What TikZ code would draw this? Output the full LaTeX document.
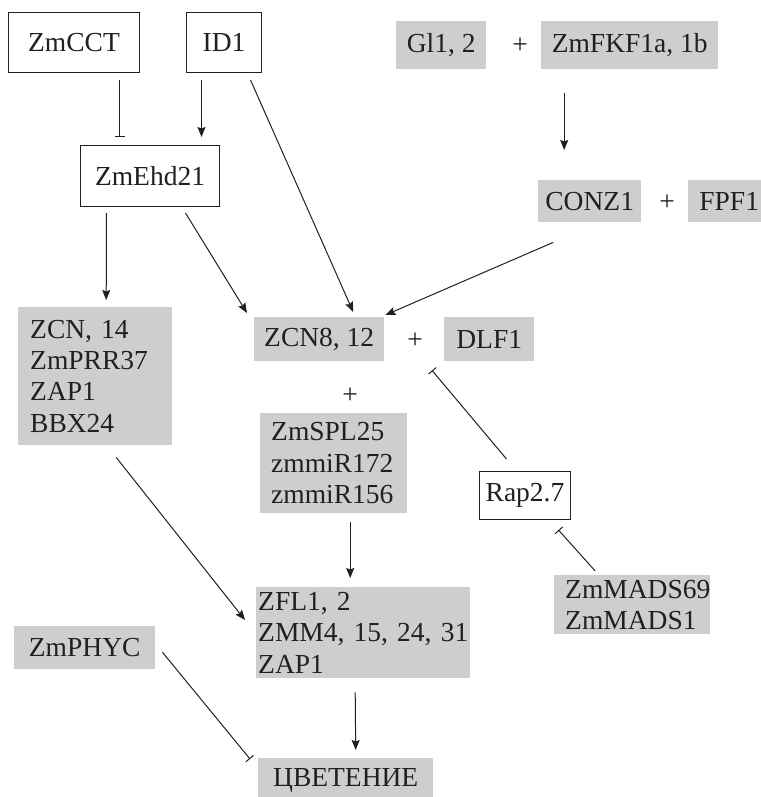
\documentclass[tikz,border=0pt]{standalone}
\usepackage{fontspec}
\setmainfont{Liberation Serif}[Ligatures=TeX]
\newfontfamily\tmsfont{Liberation Serif}
\usetikzlibrary{arrows.meta,calc}
\definecolor{boxgray}{RGB}{205,206,208}
\definecolor{ink}{RGB}{35,31,32}
\begin{document}
\begin{tikzpicture}[x=1pt,y=-1pt,
  every node/.style={font=\tmsfont\fontsize{27.5}{31.3}\selectfont, text=ink, inner sep=0pt},
  gbox/.style={fill=boxgray, anchor=north west},
  wbox/.style={draw=ink, line width=1pt, fill=white, anchor=north west},
  act/.style={draw=ink, line width=1pt, -{Stealth[length=10pt,width=8pt,inset=1.5pt]}},
  inh/.style={draw=ink, line width=1pt, -{Bar[width=10pt]}},
  plus/.style={}
]
\useasboundingbox (0,0) rectangle (760,797);

% white boxes
\node[wbox, minimum width=131pt, minimum height=60pt] (cct) at (8,12) {ZmCCT};
\node[wbox, minimum width=75pt, minimum height=60pt] (id1) at (186,12) {ID1};
\node[wbox, minimum width=139pt, minimum height=61pt] (ehd) at (80,145) {ZmEhd21};
\node[wbox, minimum width=91pt, minimum height=48pt] (rap) at (479,471) {Rap2.7};

% gray boxes
\node[gbox, minimum width=90pt, minimum height=48pt] (gl) at (396,21) {Gl1, 2};
\node[plus] (p1) at (520,46) {+};
\node[gbox, minimum width=177pt, minimum height=48pt] (fkf) at (541,21) {ZmFKF1a, 1b};
\node[gbox, minimum width=103pt, minimum height=42pt] (conz) at (538,180) {CONZ1};
\node[plus] (p2) at (667,203) {+};
\node[gbox, minimum width=82pt, minimum height=42pt] (fpf) at (688,180) {FPF1};
\node[gbox, minimum width=130pt, minimum height=44pt] (zcn8) at (254,317) {ZCN8, 12};
\node[plus] (p3) at (415,341) {+};
\node[gbox, minimum width=90pt, minimum height=44pt] (dlf) at (444,317) {DLF1};
\node[gbox, minimum width=154pt, minimum height=138pt, text width=130pt, align=left] (zcn14) at (18,307) {ZCN,~14\\ZmPRR37\\ZAP1\\BBX24};
\node[plus] (p4) at (350,396) {+};
\node[gbox, minimum width=147pt, minimum height=100pt, text width=125pt, align=left] (spl) at (260,413) {ZmSPL25\\zmmiR172\\zmmiR156};
\node[gbox, minimum width=156pt, minimum height=59pt, text width=134pt, align=left] (mads) at (554,575) {ZmMADS69\\ZmMADS1};
\node[gbox, minimum width=214pt, minimum height=91pt, text width=210pt, align=left] (zfl) at (256,587) {ZFL1,~2\\ZMM4,~15,~24,~31\\ZAP1};
\node[gbox, minimum width=141pt, minimum height=43pt] (phyc) at (14,626) {ZmPHYC};
\node[gbox, minimum width=175pt, minimum height=45pt] (cvet) at (258,758) {ЦВЕТЕНИЕ};

% connectors
\draw[inh] ([shift={(45.5,7)}]cct.south) -- ([shift={(-30.5,-8)}]ehd.north);
\draw[act] ([shift={(-22.5,7)}]id1.south) -- ([shift={(51.5,-8)}]ehd.north);
\draw[act] ([shift={(26.5,7)}]id1.south) -- ([shift={(34,-5)}]zcn8.north);
\draw[act] ([shift={(-43.5,6)}]ehd.south) -- ([shift={(11,-7)}]zcn14.north);
\draw[act] ([shift={(35.5,6)}]ehd.south) -- ([shift={(-7,-4)}]zcn8.north west);
\draw[act] ([shift={(-65.5,24)}]fkf.south) -- ([shift={(-25.5,-30)}]conz.north);
\draw[act] ([shift={(-36.5,20)}]conz.south) -- ([shift={(1,-2)}]zcn8.north east);
\draw[act] ([shift={(21,12)}]zcn14.south) -- ([shift={(-11,33)}]zfl.north west);
\draw[act] ([shift={(16.5,9)}]spl.south) -- ([shift={(-13,-9)}]zfl.north);
\draw[inh] ([shift={(-18.5,-12)}]rap.north) -- ([shift={(-12,9)}]dlf.south west);
\draw[inh] ([shift={(-37,-4)}]mads.north) -- ([shift={(33.5,10)}]rap.south);
\draw[act] ([shift={(-8,14)}]zfl.south) -- ([shift={(10,-8)}]cvet.north);
\draw[inh] ([shift={(7,4.5)}]phyc.east) -- ([shift={(-8,1)}]cvet.north west);
\end{tikzpicture}
\end{document}
